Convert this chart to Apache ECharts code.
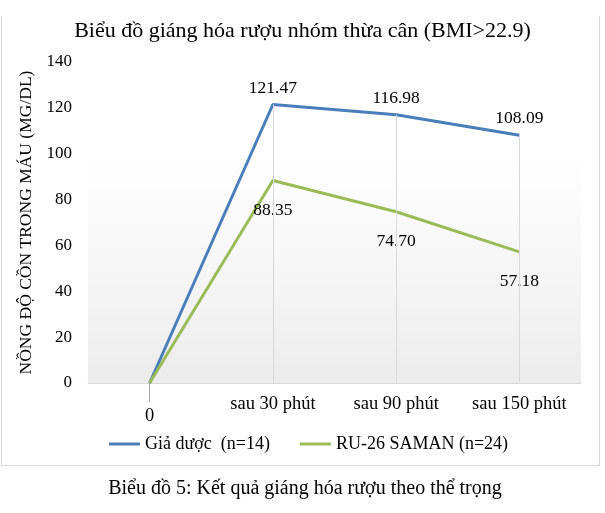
<!DOCTYPE html>
<html>
<head>
<meta charset="utf-8">
<script src="https://cdn.jsdelivr.net/npm/echarts@6/dist/echarts.min.js"></script>
<style>
  html, body { margin: 0; padding: 0; background: #fff; }
  #chart { width: 605px; height: 513px; }
</style>
</head>
<body>
<div id="chart"></div>
<script>
var categories = ["0", "sau 30 phút", "sau 90 phút", "sau 150 phút"];
var placebo = [0, 121.47, 116.98, 108.09];
var saman = [0, 88.35, 74.70, 57.18];
var seriesNames = ["Giả dược  (n=14)", "RU-26 SAMAN (n=24)"];

var font = "Liberation Serif";
var chart = echarts.init(document.getElementById("chart"));

// duong giong tu diem cao nhat xuong truc
var dropLines = [];
for (var i = 1; i < categories.length; i++) {
  dropLines.push([
    { coord: [categories[i], placebo[i]] },
    { coord: [categories[i], 0] }
  ]);
}

function valueLabel(p) {
  return p.dataIndex === 0 ? "" : p.value.toFixed(2);
}

var option = {
  animation: false,
  title: [
    {
      text: "Biểu đồ giáng hóa rượu nhóm thừa cân (BMI>22.9)",
      left: "center",
      top: 15,
      textStyle: { fontFamily: font, fontSize: 22, fontWeight: "normal", color: "#000" }
    },
    {
      text: "Biểu đồ 5: Kết quả giáng hóa rượu theo thể trọng",
      left: 300,
      textAlign: "center",
      top: 474,
      textStyle: { fontFamily: font, fontSize: 20, fontWeight: "normal", color: "#000" }
    }
  ],
  graphic: [
    {
      type: "polyline",
      shape: { points: [[1.5, 16], [1.5, 465.5], [599.5, 465.5], [599.5, 16]] },
      style: { fill: "none", stroke: "#d9d9d9", lineWidth: 1 },
      silent: true
    }
  ],
  legend: {
    left: 104,
    top: 430,
    icon: "rect",
    itemWidth: 31,
    itemHeight: 3,
    itemGap: 30,
    textStyle: { fontFamily: font, fontSize: 18, color: "#000" },
    data: seriesNames
  },
  grid: {
    left: 88,
    right: 24,
    top: 62,
    bottom: 130,
    show: true,
    borderWidth: 0,
    backgroundColor: new echarts.graphic.LinearGradient(0, 0, 0, 1, [
      { offset: 0, color: "#ffffff" },
      { offset: 0.3, color: "#ffffff" },
      { offset: 1, color: "#ececec" }
    ])
  },
  xAxis: {
    type: "category",
    boundaryGap: true,
    data: categories,
    axisLine: { lineStyle: { color: "#d9d9d9", width: 1 } },
    axisTick: {
      show: true,
      alignWithLabel: true,
      length: 19,
      interval: function (index) { return index === 0; },
      lineStyle: { color: "#a6a6a6" }
    },
    axisLabel: {
      interval: 0,
      margin: 12,
      fontFamily: font,
      fontSize: 18.5,
      color: "#000",
      formatter: function (v, idx) {
        return idx === 0 ? "{low|" + v + "}" : v;
      },
      rich: {
        low: { fontFamily: font, fontSize: 18.5, color: "#000", padding: [12, 0, 0, 0] }
      }
    },
    splitLine: { show: false }
  },
  yAxis: {
    type: "value",
    min: 0,
    max: 140,
    interval: 20,
    name: "NỒNG ĐỘ CỒN TRONG MÁU (MG/DL)",
    nameLocation: "middle",
    nameGap: 38,
    nameTextStyle: { fontFamily: font, fontSize: 17.5, color: "#000" },
    axisLine: { show: false },
    axisTick: { show: false },
    splitLine: { show: false },
    axisLabel: { fontFamily: font, fontSize: 17, color: "#000", margin: 16 }
  },
  series: [
    {
      name: seriesNames[0],
      type: "line",
      data: placebo,
      symbol: "circle",
      symbolSize: 1,
      lineStyle: { color: "#4a7ebb", width: 3 },
      itemStyle: { color: "#4a7ebb" },
      label: {
        show: true,
        position: "top",
        distance: 7,
        fontFamily: font,
        fontSize: 17.5,
        color: "#000",
        formatter: valueLabel
      },
      markLine: {
        silent: true,
        symbol: "none",
        label: { show: false },
        lineStyle: { color: "#d9d9d9", width: 1, type: "solid" },
        data: dropLines
      },
      z: 3
    },
    {
      name: seriesNames[1],
      type: "line",
      data: saman,
      symbol: "circle",
      symbolSize: 1,
      lineStyle: { color: "#9bbb59", width: 3 },
      itemStyle: { color: "#9bbb59" },
      label: {
        show: true,
        position: "bottom",
        distance: 20,
        fontFamily: font,
        fontSize: 17.5,
        color: "#000",
        formatter: valueLabel
      },
      z: 3
    }
  ]
};

chart.setOption(option);
</script>
</body>
</html>
